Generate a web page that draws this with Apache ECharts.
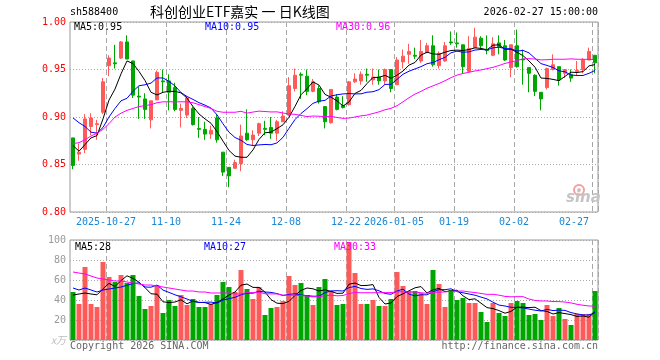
<!DOCTYPE html>
<html>
<head>
<meta charset="utf-8">
<script src="https://cdn.jsdelivr.net/npm/echarts@6/dist/echarts.min.js"></script>
<style>
html,body{margin:0;padding:0;background:#fff;}
#c{width:660px;height:360px;}
</style>
</head>
<body>
<div id="c"></div>
<script>
// ---- data ----
const dates = [
'2025-10-17','2025-10-20','2025-10-21','2025-10-22','2025-10-23','2025-10-24','2025-10-27','2025-10-28','2025-10-29','2025-10-30',
'2025-10-31','2025-11-03','2025-11-04','2025-11-05','2025-11-06','2025-11-07','2025-11-10','2025-11-11','2025-11-12','2025-11-13',
'2025-11-14','2025-11-17','2025-11-18','2025-11-19','2025-11-20','2025-11-21','2025-11-24','2025-11-25','2025-11-26','2025-11-27',
'2025-11-28','2025-12-01','2025-12-02','2025-12-03','2025-12-04','2025-12-05','2025-12-08','2025-12-09','2025-12-10','2025-12-11',
'2025-12-12','2025-12-15','2025-12-16','2025-12-17','2025-12-18','2025-12-19','2025-12-22','2025-12-23','2025-12-24','2025-12-25',
'2025-12-26','2025-12-29','2025-12-30','2025-12-31','2026-01-05','2026-01-06','2026-01-07','2026-01-08','2026-01-09','2026-01-12',
'2026-01-13','2026-01-14','2026-01-15','2026-01-16','2026-01-19','2026-01-20','2026-01-21','2026-01-22','2026-01-23','2026-01-26',
'2026-01-27','2026-01-28','2026-01-29','2026-01-30','2026-02-02','2026-02-03','2026-02-04','2026-02-05','2026-02-06','2026-02-09',
'2026-02-10','2026-02-11','2026-02-12','2026-02-13','2026-02-24','2026-02-25','2026-02-26','2026-02-27'];

const opens = [
0.878,0.861,0.866,0.890,0.892,0.905,0.954,0.957,0.962,0.979,
0.959,0.922,0.919,0.897,0.918,0.938,0.938,0.931,0.907,0.902,
0.909,0.888,0.887,0.882,0.899,0.863,0.847,0.846,0.851,0.883,
0.876,0.883,0.888,0.889,0.883,0.895,0.902,0.930,0.945,0.943,
0.927,0.930,0.911,0.894,0.921,0.912,0.913,0.937,0.938,0.945,
0.939,0.942,0.938,0.950,0.934,0.958,0.966,0.965,0.959,0.968,
0.975,0.954,0.959,0.979,0.978,0.976,0.948,0.973,0.983,0.971,
0.965,0.978,0.975,0.952,0.975,0.961,0.952,0.944,0.926,0.931,
0.950,0.953,0.946,0.945,0.948,0.950,0.960,0.965];

const closes = [
0.849,0.863,0.898,0.899,0.893,0.937,0.962,0.956,0.979,0.961,
0.923,0.921,0.908,0.917,0.947,0.937,0.926,0.908,0.909,0.920,
0.892,0.887,0.882,0.886,0.876,0.842,0.838,0.852,0.880,0.876,
0.881,0.893,0.887,0.883,0.895,0.901,0.933,0.944,0.944,0.927,
0.937,0.916,0.895,0.929,0.908,0.910,0.937,0.940,0.945,0.944,
0.942,0.938,0.950,0.930,0.960,0.964,0.969,0.964,0.969,0.975,
0.955,0.967,0.975,0.978,0.977,0.953,0.972,0.984,0.975,0.970,
0.977,0.974,0.960,0.976,0.953,0.960,0.946,0.927,0.919,0.951,
0.955,0.939,0.950,0.941,0.949,0.960,0.969,0.957];

const lows = [
0.845,0.854,0.862,0.881,0.876,0.903,0.943,0.951,0.961,0.961,
0.920,0.898,0.898,0.888,0.918,0.926,0.907,0.906,0.889,0.899,
0.891,0.878,0.876,0.877,0.873,0.838,0.826,0.846,0.843,0.875,
0.870,0.880,0.881,0.877,0.875,0.895,0.901,0.927,0.919,0.923,
0.926,0.914,0.888,0.893,0.907,0.909,0.912,0.936,0.934,0.937,
0.934,0.934,0.934,0.926,0.934,0.951,0.956,0.961,0.957,0.967,
0.953,0.951,0.958,0.976,0.973,0.946,0.948,0.973,0.972,0.966,
0.964,0.966,0.959,0.942,0.952,0.934,0.926,0.922,0.907,0.929,
0.949,0.933,0.941,0.937,0.944,0.946,0.960,0.946];

const highs = [
0.878,0.872,0.903,0.904,0.897,0.941,0.965,0.976,0.980,0.986,
0.959,0.932,0.925,0.917,0.949,0.950,0.945,0.936,0.914,0.922,
0.911,0.900,0.895,0.891,0.903,0.863,0.847,0.855,0.892,0.908,
0.886,0.894,0.896,0.900,0.897,0.906,0.942,0.951,0.947,0.950,
0.940,0.933,0.911,0.929,0.924,0.922,0.938,0.946,0.948,0.951,
0.951,0.950,0.951,0.950,0.963,0.971,0.977,0.973,0.981,0.978,
0.986,0.969,0.979,0.990,0.989,0.976,0.985,0.994,0.985,0.986,
0.984,0.986,0.981,0.976,0.992,0.971,0.952,0.945,0.926,0.952,
0.966,0.953,0.950,0.950,0.959,0.962,0.973,0.965];

const volumes = [
48,36,73,36,33,78,63,58,65,57,
65,44,31,34,55,27,40,34,45,35,
41,33,33,36,45,58,53,48,70,51,
41,53,25,32,33,39,64,55,57,45,
35,53,61,49,35,36,98,67,36,36,
40,34,34,41,68,54,49,49,47,36,
70,56,33,50,40,42,37,37,28,18,
37,27,24,37,39,37,25,26,20,35,
24,32,21,15,26,26,26,49];

// moving-average values before enough in-window history exists
const ma5Head  = [0.870,0.864,0.871,0.878];
const ma10Head = [0.899,0.894,0.890,0.884,0.883,0.889,0.900,0.909,0.917];
const ma30Head = [0.872,0.873,0.876,0.880,0.883,0.887,0.893,0.900,0.904,0.907,
                  0.909,0.911,0.912,0.913,0.915,0.916,0.916,0.916,0.916,0.916,
                  0.915,0.913,0.911,0.909,0.906,0.905,0.905,0.905,0.906];
const vma5Head  = [45,46,47,46];
const vma10Head = [52,50,52,50,48,50,51,52,53];
const vma30Head = [68,67,66,64,62,61,60,59,59,58,57,56,55,55,54,53,52,51,50,49,49,48,48,47,47,47,47,46,46];

const tickIndex = [6,16,26,36,46,54,64,74,87];
const tickText  = ['2025-10-27','11-10','11-24','12-08','12-22','2026-01-05','01-19','02-02','02-27'];
const priceTicks = [0.80,0.85,0.90,0.95,1.00];
const volTicks = [0,20,40,60,80,100];

const title = '科创创业ETF嘉实 一 日K线图';
const code = 'sh588400';
const stamp = '2026-02-27 15:00:00';
const maText = ['MA5:0.95','MA10:0.95','MA30:0.96'];
const vmaText = ['MA5:28','MA10:27','MA30:33'];

// ---- build ----
function movingAvg(vals, n, head){
  const out=[];
  for(let i=0;i<vals.length;i++){
    if(i<n-1){ out.push(head[i]); continue; }
    let s=0; for(let k=i-n+1;k<=i;k++) s+=vals[k];
    out.push(+(s/n).toFixed(4));
  }
  return out;
}
const UP='#ff5a5a', DOWN='#00a600';
const kData = dates.map((d,i)=>[opens[i],closes[i],lows[i],highs[i]]);
const volData = volumes.map((v,i)=>({value:v,itemStyle:{color: closes[i]>=opens[i]?UP:DOWN}}));
const MONO = '"DejaVu Sans Mono", "Liberation Mono", monospace';
const showTick = (i)=>tickIndex.indexOf(i)>=0;

const chart = echarts.init(document.getElementById('c'), null, {renderer:'canvas'});
const gridCommon = {left:70, right:62, show:true, borderColor:'#999', borderWidth:1, backgroundColor:'transparent'};
const vSplit = {show:true, interval:(i)=>showTick(i), lineStyle:{color:'#a8a8a8', type:[5,3], width:1}};
const hSplit = {show:true, lineStyle:{color:'#aaa', type:[1,2], width:1}};
function line(name, data, color, xi, yi){
  return {name, type:'line', data, xAxisIndex:xi, yAxisIndex:yi, symbol:'none', smooth:false,
          lineStyle:{color, width:1}, itemStyle:{color}, z:5, silent:true};
}
function txt(x,y,text,fill,font,align){
  return {type:'text', x, y, z:100, style:{text, fill, font, textAlign:align||'left', textVerticalAlign:'middle'}};
}

chart.setOption({
  animation:false,
  backgroundColor:'#fff',
  grid:[
    Object.assign({top:22, height:190}, gridCommon),
    Object.assign({top:240, height:100}, gridCommon)
  ],
  xAxis:[
    {type:'category', gridIndex:0, data:dates, boundaryGap:true,
     axisLine:{show:false}, axisTick:{show:false},
     axisLabel:{interval:(i)=>showTick(i), formatter:(v,i)=>tickText[tickIndex.indexOf(i)]||'',
                color:'#1a87d6', fontFamily:MONO, fontSize:10, margin:5, padding:[0,6,0,0], alignMaxLabel:'right'},
     splitLine:vSplit},
    {type:'category', gridIndex:1, data:dates, boundaryGap:true,
     axisLine:{show:false}, axisTick:{show:false}, axisLabel:{show:false}, splitLine:vSplit}
  ],
  yAxis:[
    {type:'value', gridIndex:0, min:priceTicks[0], max:priceTicks[priceTicks.length-1], interval:0.05,
     axisLine:{show:false}, axisTick:{show:false},
     axisLabel:{color:'#ff0000', fontFamily:MONO, fontSize:10, margin:4, formatter:(v)=>v.toFixed(2)},
     splitLine:hSplit},
    {type:'value', gridIndex:1, min:volTicks[0], max:volTicks[volTicks.length-1], interval:20,
     axisLine:{show:false}, axisTick:{show:false},
     axisLabel:{color:'#999', fontFamily:MONO, fontSize:10, margin:4,
                formatter:(v)=> v===0 ? '{u|x万}' : String(v),
                rich:{u:{color:'#bbb', fontFamily:'"Noto Sans CJK SC", sans-serif', fontSize:10, fontStyle:'italic'}}},
     splitLine:hSplit}
  ],
  series:[
    {name:'K', type:'candlestick', xAxisIndex:0, yAxisIndex:0, data:kData, barWidth:4,
     itemStyle:{color:UP, color0:DOWN, borderColor:UP, borderColor0:DOWN, borderWidth:1}, z:3, silent:true},
    line('MA5', movingAvg(closes,5,ma5Head), '#000000', 0, 0),
    line('MA10', movingAvg(closes,10,ma10Head), '#0000ff', 0, 0),
    line('MA30', movingAvg(closes,30,ma30Head), '#ff00ff', 0, 0),
    {name:'VOL', type:'bar', xAxisIndex:1, yAxisIndex:1, data:volData, barWidth:5, z:3, silent:true},
    line('VMA5', movingAvg(volumes,5,vma5Head), '#000000', 1, 1),
    line('VMA10', movingAvg(volumes,10,vma10Head), '#0000ff', 1, 1),
    line('VMA30', movingAvg(volumes,30,vma30Head), '#ff00ff', 1, 1)
  ],
  graphic:[
    txt(70, 12, code, '#000', '10px '+MONO),
    txt(150, 12, title, '#000', '14px "Noto Sans CJK SC", sans-serif'),
    txt(598, 12, stamp, '#000', '10px '+MONO, 'right'),
    txt(74, 27, maText[0], '#000', '10px '+MONO),
    txt(205, 27, maText[1], '#0000ff', '10px '+MONO),
    txt(336, 27, maText[2], '#ff00ff', '10px '+MONO),
    txt(75, 247, vmaText[0], '#000', '10px '+MONO),
    txt(204, 247, vmaText[1], '#0000ff', '10px '+MONO),
    txt(334, 247, vmaText[2], '#ff00ff', '10px '+MONO),
    txt(70, 346, 'Copyright 2026 SINA.COM', '#666', '10px '+MONO),
    txt(598, 346, 'http://finance.sina.com.cn', '#666', '10px '+MONO, 'right'),
    {type:'circle', z:90, shape:{cx:579, cy:190, r:5}, style:{fill:'none', stroke:'#f2a0a0', lineWidth:2}},
    {type:'circle', z:90, shape:{cx:579, cy:190, r:1.8}, style:{fill:'#f2a0a0'}},
    txt(566, 198, 'sina', '#c4c4c4', 'italic bold 15px "DejaVu Sans", sans-serif')
  ]
});
</script>
</body>
</html>
